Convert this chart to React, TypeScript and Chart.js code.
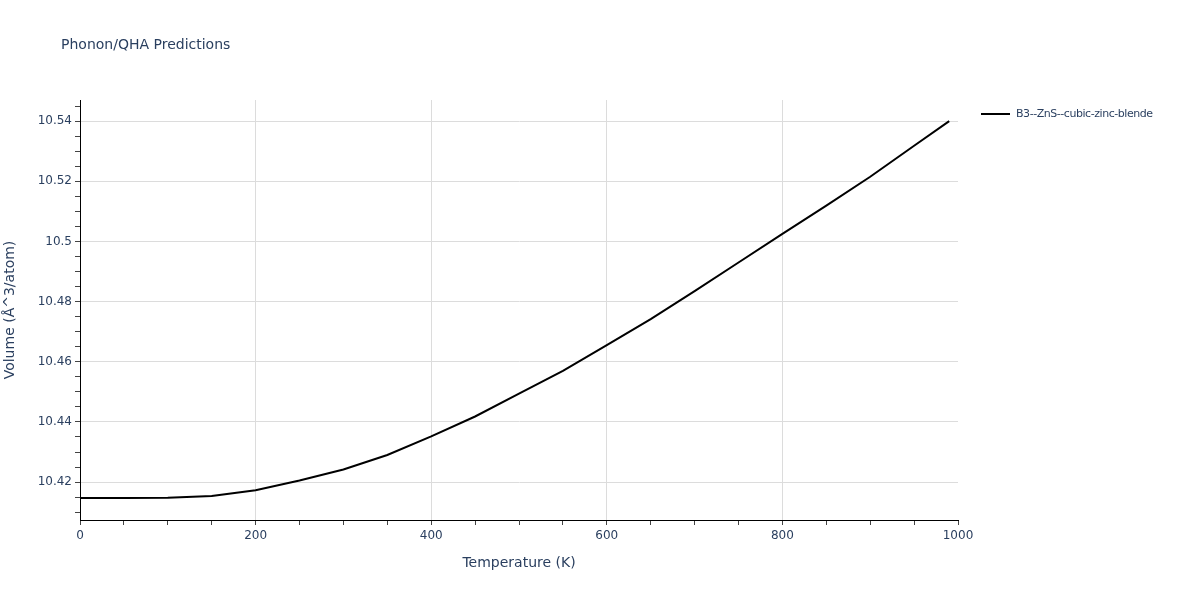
// Phonon/QHA volume vs temperature line chart
import { useEffect, useRef } from 'react';
import { Chart, registerables } from 'chart.js';
Chart.register(...registerables);

const temperatures = [0, 50, 100, 150, 200, 250, 300, 350, 400, 450, 500, 550, 600, 650, 700, 750, 800, 850, 900, 950, 990];
const volumes = [
  10.4147, 10.4147, 10.4148, 10.4154, 10.4173, 10.4205, 10.4242, 10.4290, 10.4352, 10.4418,
  10.4494, 10.4570, 10.4655, 10.4742, 10.4835, 10.4930, 10.5025, 10.5119, 10.5215, 10.5318, 10.5400,
];
const seriesName = 'B3--ZnS--cubic-zinc-blende';

const xTickLabels = [0, 200, 400, 600, 800, 1000];
const yTickLabels = [10.42, 10.44, 10.46, 10.48, 10.5, 10.52, 10.54];
const xMinorStep = 50;
const yMinorStep = 0.005;

const FONT = '"DejaVu Sans", Verdana, sans-serif';
const TEXT = '#2a3f5f';

const isMajor = (v: number, list: number[]) => list.some(m => Math.abs(m - v) < 1e-6);

export default function App() {
  const ref = useRef<HTMLCanvasElement>(null);

  useEffect(() => {
    const canvas = ref.current;
    if (!canvas) return;

    const chart = new Chart(canvas, {
      type: 'line',
      data: {
        datasets: [{
          label: seriesName,
          data: temperatures.map((t, i) => ({ x: t, y: volumes[i] })),
          borderColor: '#000',
          borderWidth: 2,
          pointRadius: 0,
          tension: 0,
          fill: false,
        }],
      },
      options: {
        animation: false,
        responsive: true,
        maintainAspectRatio: false,
        layout: { padding: { top: 100, right: 242, left: 0, bottom: 0 } },
        plugins: {
          legend: { display: false },
          title: { display: false },
          tooltip: { enabled: false },
        },
        scales: {
          x: {
            type: 'linear',
            min: 0,
            max: 1000,
            afterFit: s => { s.height = 80; },
            afterBuildTicks: s => {
              const t = [];
              for (let v = 0; v <= 1000 + 1e-9; v += xMinorStep) t.push({ value: v });
              s.ticks = t;
            },
            grid: {
              color: c => (isMajor(c.tick?.value, xTickLabels) && c.tick.value > 0 && c.tick.value < 1000 ? '#dcdcdc' : 'transparent'),
              tickColor: '#444',
              tickLength: 5,
              lineWidth: 1,
            },
            border: { display: true, color: '#000', width: 1 },
            ticks: {
              autoSkip: false,
              maxRotation: 0,
              padding: 4,
              color: TEXT,
              font: { family: FONT, size: 12 },
              callback: v => (isMajor(v as number, xTickLabels) ? String(v) : ''),
            },
            title: {
              display: true,
              text: 'Temperature (K)',
              color: TEXT,
              font: { family: FONT, size: 14 },
              padding: { top: 0, bottom: 28 },
            },
          },
          y: {
            type: 'linear',
            min: 10.4074,
            max: 10.547,
            afterFit: s => { s.width = 80; },
            afterBuildTicks: s => {
              const t = [];
              const start = Math.ceil(10.4074 / yMinorStep) * yMinorStep;
              for (let v = start; v <= 10.547; v += yMinorStep) t.push({ value: Number(v.toFixed(4)) });
              s.ticks = t;
            },
            grid: {
              color: c => (isMajor(c.tick?.value, yTickLabels) ? '#dcdcdc' : 'transparent'),
              tickColor: '#444',
              tickLength: 5,
              lineWidth: 1,
            },
            border: { display: true, color: '#000', width: 1 },
            ticks: {
              autoSkip: false,
              padding: 3,
              color: TEXT,
              font: { family: FONT, size: 12 },
              callback: v => (isMajor(v as number, yTickLabels) ? String(Number((v as number).toFixed(2))) : ''),
            },
            title: {
              display: true,
              text: 'Volume (Å^3/atom)',
              color: TEXT,
              font: { family: FONT, size: 14 },
              padding: { top: 2, bottom: 0 },
            },
          },
        },
      },
    });

    return () => chart.destroy();
  }, []);

  return (
    <div style={{ position: 'fixed', left: 0, top: 0, width: 1200, height: 600, background: '#fff', fontFamily: FONT }}>
      <canvas ref={ref} />
      <div style={{ position: 'absolute', left: 61, top: 36, fontSize: 14, color: TEXT, whiteSpace: 'nowrap' }}>
        Phonon/QHA Predictions
      </div>
      <div style={{ position: 'absolute', left: 981, top: 107, display: 'flex', alignItems: 'center', fontSize: 11, letterSpacing: -0.45, color: TEXT, whiteSpace: 'nowrap' }}>
        <div style={{ width: 29, height: 2, background: '#000', marginRight: 6 }} />
        {seriesName}
      </div>
    </div>
  );
}
